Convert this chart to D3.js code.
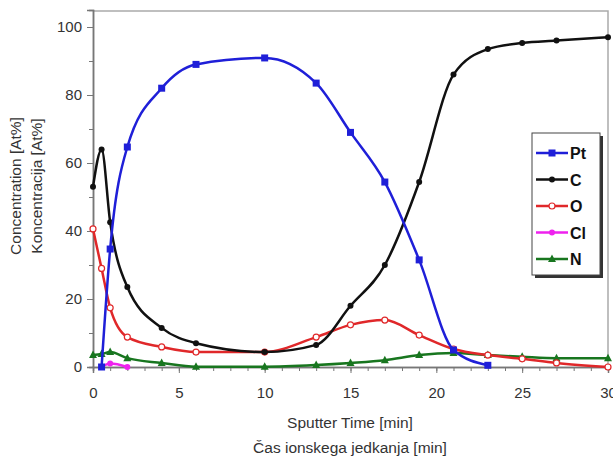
<!DOCTYPE html>
<html>
<head>
<meta charset="utf-8">
<script src="https://cdn.jsdelivr.net/npm/d3@7"></script>
<style>
	body { margin: 0; background: #fff; }
	svg { font-family: "Liberation Sans", Arial, sans-serif; }
	.tick text { fill: #333; font-size: 15px; }
	.axis-title { fill: #333; font-size: 15.5px; }
	.legend text { font-size: 16px; font-weight: bold; fill: #111; }
</style>
</head>
<body>
<div id="chart-area"></div>
<script>
// sputter times [min] per element
const ptTime = [0.5, 1, 2, 4, 6, 10, 13, 15, 17, 19, 21, 23];
const ptConc = [0, 34.7, 64.7, 82, 89, 90.9, 83.5, 69, 54.4, 31.5, 5, 0.5];

const cTime = [0, 0.5, 1, 2, 4, 6, 10, 13, 15, 17, 19, 21, 23, 25, 27, 30];
const cConc = [53, 64, 42.6, 23.5, 11.5, 7, 4.4, 6.5, 18, 30, 54.4, 86, 93.5, 95.3, 96, 97];

const oTime = [0, 0.5, 1, 2, 4, 6, 10, 13, 15, 17, 19, 21, 23, 25, 27, 30];
const oConc = [40.6, 29, 17.4, 8.8, 5.9, 4.4, 4.4, 8.8, 12.4, 13.8, 9.4, 5.3, 3.5, 2.4, 1.2, 0];

const clTime = [0.5, 1, 2];
const clConc = [0, 1, 0];

const nTime = [0, 0.5, 1, 2, 4, 6, 10, 13, 15, 17, 19, 21, 23, 25, 27, 30];
const nConc = [3.5, 3.8, 4.4, 2.6, 1.2, 0.1, 0.1, 0.6, 1.2, 2, 3.5, 4.1, 3.5, 3, 2.6, 2.6];

const xTicks = [0, 5, 10, 15, 20, 25, 30];
const yTicks = [0, 20, 40, 60, 80, 100];

const series = [
	{ name: "Pt", time: ptTime, conc: ptConc, color: "#1f1fd8", marker: "square" },
	{ name: "C", time: cTime, conc: cConc, color: "#111111", marker: "dot" },
	{ name: "O", time: oTime, conc: oConc, color: "#e0282a", marker: "open" },
	{ name: "Cl", time: clTime, conc: clConc, color: "#ee22ee", marker: "dot" },
	{ name: "N", time: nTime, conc: nConc, color: "#18761f", marker: "triangle" }
];

const W = 613, H = 459;
const svg = d3.select("#chart-area").append("svg")
	.attr("width", W)
	.attr("height", H);

// scales
const x = d3.scaleLinear().domain([0, 30]).range([93, 608]);
const y = d3.scaleLinear().domain([0, 105]).range([367, 10]);

// plot frame (top and right in light gray)
svg.append("path")
	.attr("d", `M${x(0)},${y(104.7)}H${x(30)}V${y(0)}`)
	.attr("fill", "none")
	.attr("stroke", "#aaa")
	.attr("stroke-width", 1.5);

// axes
const yAxisMinor = d3.axisLeft(y).tickValues(d3.range(10, 101, 20)).tickSize(4).tickFormat("");
const yAxis = d3.axisLeft(y).tickValues(yTicks).tickSize(6).tickPadding(5);
const xAxisMinor = d3.axisBottom(x).tickValues(d3.range(0, 31, 1)).tickSize(4).tickFormat("");
const xAxis = d3.axisBottom(x).tickValues(xTicks).tickSize(6).tickPadding(14);

svg.append("g").attr("transform", `translate(${x(0)},0)`).call(yAxisMinor);
svg.append("g").attr("transform", `translate(${x(0)},0)`).call(yAxis);
svg.append("g").attr("transform", `translate(0,${y(0)})`).call(xAxisMinor);
svg.append("g").attr("transform", `translate(0,${y(0)})`).call(xAxis);

svg.selectAll(".domain").attr("stroke", "#777").attr("stroke-width", 1.5);
svg.selectAll(".tick line").attr("stroke", "#777");

// axis titles
svg.append("text")
	.attr("class", "axis-title")
	.attr("x", 350).attr("y", 428)
	.attr("text-anchor", "middle")
	.text("Sputter Time [min]");
svg.append("text")
	.attr("class", "axis-title")
	.attr("x", 350).attr("y", 453)
	.attr("text-anchor", "middle")
	.text("Čas ionskega jedkanja [min]");
svg.append("text")
	.attr("class", "axis-title")
	.attr("transform", "translate(21,186) rotate(-90)")
	.attr("text-anchor", "middle")
	.text("Concentration [At%]");
svg.append("text")
	.attr("class", "axis-title")
	.attr("transform", "translate(42,186) rotate(-90)")
	.attr("text-anchor", "middle")
	.text("Koncentracija [At%]");

// lines
const line = d3.line()
	.x(d => x(d[0]))
	.y(d => y(d[1]))
	.curve(d3.curveMonotoneX);

function drawMarker(g, type, color, cx, cy) {
	if (type === "square") {
		g.append("rect").attr("x", cx - 3.5).attr("y", cy - 3.5)
			.attr("width", 7).attr("height", 7).attr("fill", color);
	} else if (type === "dot") {
		g.append("circle").attr("cx", cx).attr("cy", cy).attr("r", 3).attr("fill", color);
	} else if (type === "open") {
		g.append("circle").attr("cx", cx).attr("cy", cy).attr("r", 3)
			.attr("fill", "#fff").attr("stroke", color).attr("stroke-width", 1.2);
	} else if (type === "triangle") {
		g.append("path")
			.attr("d", `M${cx},${cy - 4.5}L${cx + 4},${cy + 3}L${cx - 4},${cy + 3}Z`)
			.attr("fill", color);
	}
}

// draw in back-to-front order as in the reference
const order = ["N", "O", "C", "Cl", "Pt"];
order.forEach(name => {
	const s = series.find(d => d.name === name);
	const pts = s.time.map((t, i) => [t, s.conc[i]]);
	const g = svg.append("g");
	g.append("path")
		.attr("d", line(pts))
		.attr("fill", "none")
		.attr("stroke", s.color)
		.attr("stroke-width", 2.5);
	pts.forEach(p => drawMarker(g, s.marker, s.color, x(p[0]), y(p[1])));
});

// legend
const legend = svg.append("g").attr("class", "legend");
legend.append("rect")
	.attr("x", 535).attr("y", 136).attr("width", 68).attr("height", 142)
	.attr("fill", "#333");
legend.append("rect")
	.attr("x", 532).attr("y", 133).attr("width", 68).attr("height", 142)
	.attr("fill", "#fff").attr("stroke", "#444").attr("stroke-width", 1);

series.forEach((s, i) => {
	const ly = 153 + i * 26.5;
	legend.append("line")
		.attr("x1", 536).attr("x2", 568)
		.attr("y1", ly).attr("y2", ly)
		.attr("stroke", s.color).attr("stroke-width", 2.5);
	drawMarker(legend, s.marker, s.color, 552, ly);
	legend.append("text")
		.attr("x", 570).attr("y", ly + 6)
		.text(s.name);
});
</script>
</body>
</html>
